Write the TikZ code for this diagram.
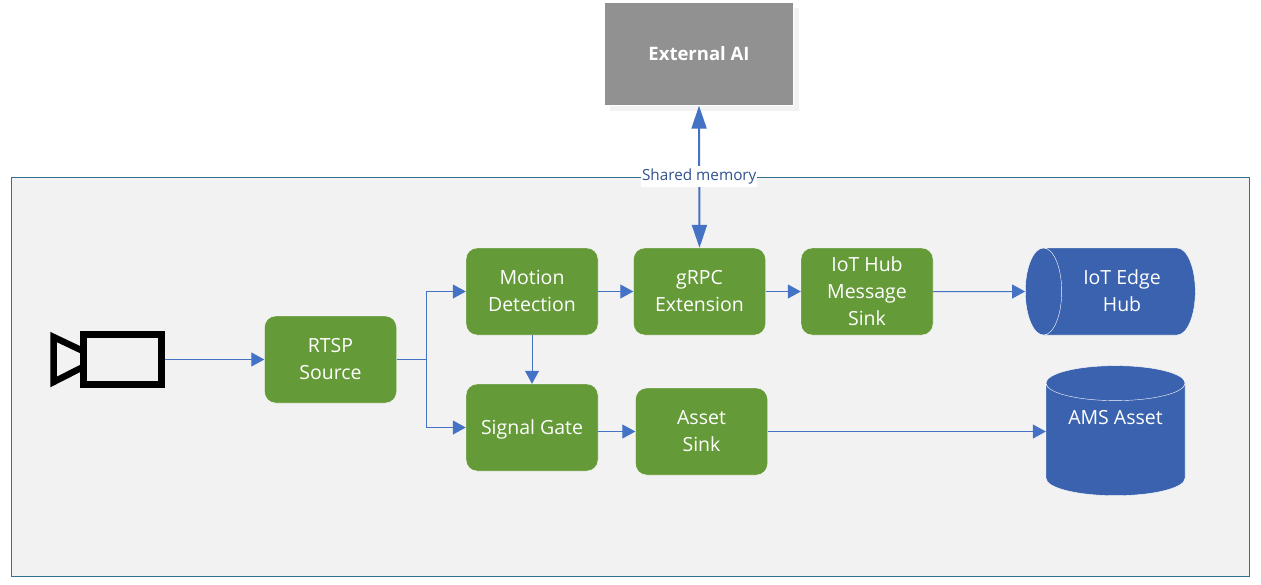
\documentclass[tikz,border=0pt]{standalone}
\usepackage{fontspec}
\setmainfont{Open Sans}
\usetikzlibrary{arrows.meta, shapes.geometric, shadows}

\begin{document}
\begin{tikzpicture}
        [
          x=1pt,y=-1pt,
          font=\fontsize{19.5}{27}\selectfont,
          module/.style={draw=white,fill=moduleGreen,rounded corners=11pt,text=white,align=center,
            minimum width=132pt,minimum height=87pt,inner sep=0pt},
          store/.style={cylinder,draw=white,thin,fill=storeBlue,text=white,align=center,inner sep=0pt},
          flow/.style={flowBlue,line width=1pt,-{Triangle[length=13pt,width=14pt]}},
          memflow/.style={flowBlue,line width=2pt,{Triangle[length=23pt,width=15pt]}-{Triangle[length=23pt,width=15pt]}}
        ]
        \definecolor{moduleGreen}{HTML}{659A38}
        \definecolor{storeBlue}{HTML}{3A62AE}
        \definecolor{flowBlue}{HTML}{4472C4}
        \definecolor{panelLine}{HTML}{31708F}
        \definecolor{memText}{HTML}{2F528F}
        \useasboundingbox (0,0) rectangle (1261,584);
        % panel
        \draw [draw=panelLine,fill=black!5] (11.5,177) rectangle (1249.5,576);
        % external AI
        \node [draw=white,fill=black!43,text=white,font=\fontsize{18.5}{27}\selectfont\bfseries,
          minimum width=189pt,minimum height=103pt,inner sep=0pt,
          drop shadow={shadow xshift=5pt,shadow yshift=-5pt,fill=black!5,opacity=1}] (external) at (699,54) {External AI};
        % camera
        \node [draw=black,line width=6.5pt,minimum width=78pt,minimum height=50pt,inner sep=0pt] (camera) at (122.5,359.5) {};
        \draw [line width=6.5pt] (83,351) -- (53.5,337) -- (53.5,382) -- (83,367);
        % modules
        \node [module] (rtsp) at (330.5,359.5) {RTSP\\Source};
        \node [module] (motion) at (532,291.5) {\raisebox{1pt}{Motion}\\\raisebox{1pt}{Detection}};
        \node [module] (grpc) at (699.5,291.5) {gRPC\\Extension};
        \node [module] (iothub) at (867,291.5) {IoT Hub\\Message\\Sink};
        \node [module] (signal) at (532,427.5) {\raisebox{-6.5pt}[0pt][0pt]{Signal Gate}};
        \node [module] (asset) at (701.5,431.5) {Asset\\Sink};
        % stores
        \node [store,shape border rotate=180,shape aspect=0.85,minimum width=87pt,minimum height=170pt] (edgehub) at (1119.5,291.5) {\hspace*{5pt}\raisebox{1pt}{IoT Edge}\\\hspace*{5pt}\raisebox{1pt}{Hub}};
        \node [store,shape border rotate=90,shape aspect=0.37,minimum width=139pt,minimum height=130pt] (ams) at (1115.5,439.5) {AMS Asset\\[18pt]\ };
        % connectors
        \coordinate (split) at (426,359.5);
        \draw [flow] (camera) -- (rtsp);
        \draw [flowBlue,line width=1pt] (rtsp) -- (split);
        \foreach \a/\b in {split/motion,split/signal} {
            \draw [flow] (\a) |- (\b);
        }
        \foreach \a/\b in {motion/grpc,grpc/iothub,iothub/edgehub,motion/signal} {
            \draw [flow] (\a) -- (\b);
        }
        \draw [flow] (signal.east |- asset) -- (asset);
        \draw [flow] (asset) -- (ams.west |- asset);
        % shared memory
        \draw [memflow] (grpc.north) -- node [fill=white,inner sep=1pt,minimum height=21pt,text=memText,font=\fontsize{15.3}{20}\selectfont] (shared) {Shared memory} (external.south);
      \end{tikzpicture}
\end{document}
